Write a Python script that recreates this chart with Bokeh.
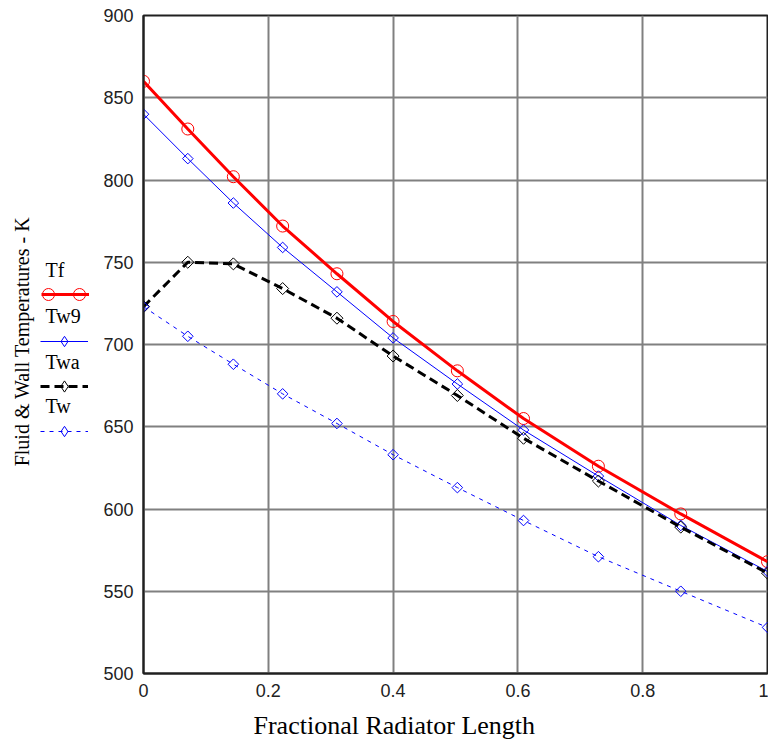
from bokeh.plotting import figure
from bokeh.models import Legend, LegendItem, Label, Range1d, FixedTicker
from bokeh.layouts import row, column
from bokeh.embed import file_html
from bokeh.resources import INLINE
import math

# ---------------- data ----------------
frac_length = [0.0, 0.071, 0.144, 0.223, 0.310, 0.400, 0.503, 0.609, 0.729, 0.861, 1.0]
tf_vals = [860, 831, 802, 772, 743, 714, 684, 655, 626, 597, 568]
tw9_vals = [840, 813, 786, 759, 732, 704, 676, 648, 620, 590, 562]
twa_vals = [723, 750, 749, 734, 716, 693, 669, 643, 617, 589, 561]
tw_vals = [723, 705, 688, 670, 652, 633, 613, 593, 571, 550, 528]
series_names = ["Tf", "Tw9", "Twa", "Tw"]

x_ticks = [0.0, 0.2, 0.4, 0.6, 0.8, 1.0]
x_tick_labels = ["0", "0.2", "0.4", "0.6", "0.8", "1"]
y_ticks = [500, 550, 600, 650, 700, 750, 800, 850, 900]
y_tick_labels = [str(v) for v in y_ticks]

x_title = "Fractional Radiator Length"
y_title = "Fluid & Wall Temperatures - K"

SERIF = "Liberation Serif"
SANS = "Liberation Sans"

# series styles
STY = {
    "Tf": dict(color="#FF0000", width=3, dash="solid", marker="circle", size=12, angle=0.0),
    "Tw9": dict(color="#0000FF", width=1, dash="solid", marker="square", size=7.5, angle=math.pi / 4),
    "Twa": dict(color="#000000", width=3, dash="9 5", marker="square", size=8.5, angle=math.pi / 4),
    "Tw": dict(color="#0000FF", width=1, dash="4 5", marker="square", size=7.5, angle=math.pi / 4),
}
# legend marker shapes (legend glyphs are drawn unrotated)
LEG_MARKER = {"Tf": "circle", "Tw9": "diamond", "Twa": "diamond", "Tw": "diamond"}
series_vals = dict(zip(series_names, [tf_vals, tw9_vals, twa_vals, tw_vals]))

LEFT_W = 98          # width of the legend / y-title strip
TOTAL_H = 741
MAIN_W = 670
MAIN_H = 706
MAIN_BORDER_L = 45
BOTTOM_H = TOTAL_H - MAIN_H
TEXT_SHIFT = 9       # alphabetic-baseline correction


def add_series(fig, xs, ys, name, marker=None):
    s = STY[name]
    ln = fig.line(xs, ys, line_color=s["color"], line_width=s["width"], line_dash=s["dash"])
    mk = fig.scatter(xs, ys, marker=marker or s["marker"], size=s["size"], angle=s["angle"],
                     fill_alpha=0, line_color=s["color"], line_width=1)
    return ln, mk


# ---------------- main figure ----------------
p = figure(width=MAIN_W, height=MAIN_H, x_range=Range1d(0, 1), y_range=Range1d(500, 900),
           output_backend="svg", toolbar_location=None,
           min_border_left=MAIN_BORDER_L, min_border_right=1, min_border_top=15, min_border_bottom=33)
p.background_fill_color = "white"
p.border_fill_color = "white"
p.outline_line_color = "#202020"
p.outline_line_width = 2

p.xgrid.ticker = FixedTicker(ticks=x_ticks)
p.ygrid.ticker = FixedTicker(ticks=y_ticks)
for g in (p.xgrid, p.ygrid):
    g.grid_line_color = "#808080"
    g.grid_line_width = 2

p.xaxis.ticker = FixedTicker(ticks=x_ticks)
p.yaxis.ticker = FixedTicker(ticks=y_ticks)
p.xaxis.major_label_overrides = dict(zip(x_ticks, x_tick_labels))
p.yaxis.major_label_overrides = dict(zip(y_ticks, y_tick_labels))
for ax in (p.xaxis, p.yaxis):
    ax.axis_line_color = "#202020"
    ax.axis_line_width = 2
    ax.major_tick_out = 0
    ax.major_tick_in = 0
    ax.minor_tick_out = 0
    ax.minor_tick_in = 0
    ax.major_label_text_font = SANS
    ax.major_label_text_font_size = "18px"
    ax.major_label_text_color = "#222222"
    ax.major_label_standoff = 10

for name in series_names:
    add_series(p, frac_length, series_vals[name], name)

# ---------------- left strip: y title + legend ----------------
lf = figure(width=LEFT_W, height=TOTAL_H, x_range=Range1d(0, 1), y_range=Range1d(0, 1),
            output_backend="svg", toolbar_location=None,
            min_border_left=0, min_border_right=0, min_border_top=0, min_border_bottom=0)
lf.axis.visible = False
lf.grid.visible = False
lf.outline_line_color = None
lf.background_fill_color = "white"
lf.border_fill_color = "white"

lf.add_layout(Label(x=21, y=TOTAL_H - 341, x_units="screen", y_units="screen", text=y_title,
                    angle=math.pi / 2, text_align="center", text_baseline="middle",
                    text_font=SERIF, text_font_size="20px", text_color="black"))

nan = [float("nan")]
legend_rend = {name: add_series(lf, nan, nan, name, LEG_MARKER[name]) for name in series_names}


def sample(renderers, left, cy, w, h):
    lg = Legend(items=[LegendItem(label=" ", renderers=renderers)],
                location=(left, TOTAL_H - cy - h / 2),
                glyph_width=w, glyph_height=h, padding=0, margin=0, spacing=0,
                label_standoff=0, label_width=0, label_height=0,
                label_text_font_size="1px", border_line_alpha=0,
                background_fill_alpha=0, inactive_fill_alpha=0)
    lf.add_layout(lg)


# legend marker size = 0.4 * min(glyph box)
tf_ln, tf_mk = legend_rend["Tf"]
sample([tf_ln], 41, 294, 48, 14)
sample([tf_mk], 48 - 15, 294, 30, 30)
sample([tf_mk], 79 - 15, 294, 30, 30)
sample(list(legend_rend["Tw9"]), 40, 341, 48, 26)
sample(list(legend_rend["Twa"]), 40, 386, 48, 28)
sample(list(legend_rend["Tw"]), 40, 431, 48, 26)

for name, base in zip(series_names, [278, 324, 370, 414]):
    lf.add_layout(Label(x=45, y=TOTAL_H - base + TEXT_SHIFT, x_units="screen", y_units="screen",
                        text=name, text_font=SERIF, text_font_size="20px",
                        text_baseline="alphabetic", text_color="black"))

# ---------------- bottom strip: x title ----------------
bf = figure(width=MAIN_W, height=BOTTOM_H, x_range=Range1d(0, 1), y_range=Range1d(0, 1),
            output_backend="svg", toolbar_location=None,
            min_border_left=MAIN_BORDER_L, min_border_right=1, min_border_top=0, min_border_bottom=0)
bf.axis.visible = False
bf.grid.visible = False
bf.outline_line_color = None
bf.background_fill_color = "white"
bf.border_fill_color = "white"
bf.add_layout(Label(x=253 - LEFT_W - MAIN_BORDER_L, y=TOTAL_H - 734 + TEXT_SHIFT,
                    x_units="screen", y_units="screen",
                    text=x_title, text_font=SERIF, text_font_size="26px",
                    text_baseline="alphabetic", text_color="black"))

layout = row(lf, column(p, bf, spacing=0), spacing=0)
open("out.html", "w").write(file_html(layout, INLINE))
